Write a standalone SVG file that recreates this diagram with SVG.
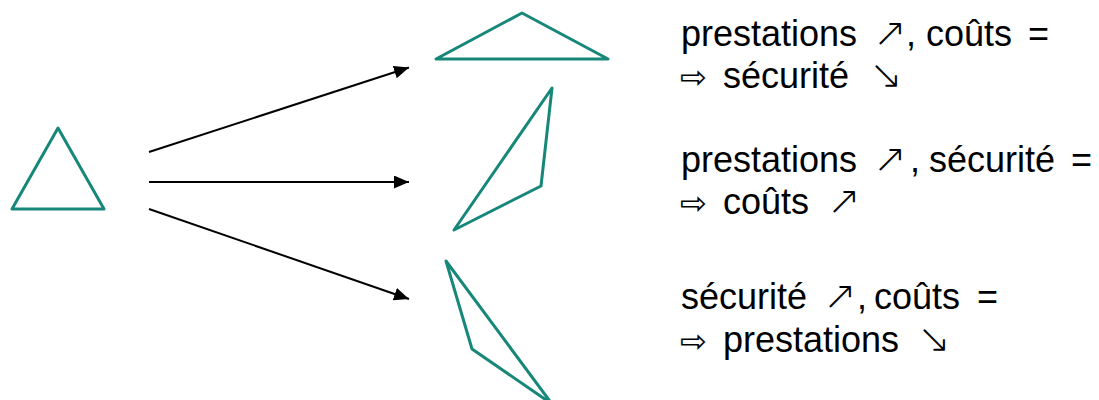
<svg xmlns="http://www.w3.org/2000/svg" width="1099" height="400" viewBox="0 0 1099 400">
  <style>
    .tri { fill: none; stroke: #17877A; stroke-width: 3; stroke-linejoin: round; }
    .edge { fill: none; stroke: #000; stroke-width: 2; }
    .lbl { font-family: "Liberation Sans", Arial, "DejaVu Sans", sans-serif; font-size: 36px; fill: #000; }
    .sym { font-family: "DejaVu Sans ExtraLight", "DejaVu Sans", sans-serif; font-weight: 200; font-size: 40px; }
    .imp { font-family: "DejaVu Sans", sans-serif; font-size: 32px; }
  </style>
  <defs>
    <marker id="arrow" markerUnits="userSpaceOnUse" markerWidth="16" markerHeight="14" refX="15" refY="6.5" orient="auto">
      <path d="M0,0 L15,6.5 L0,13 Z" fill="#000"/>
    </marker>
  </defs>
  <rect width="1099" height="400" fill="#fff"/>

  <!-- starting balance -->
  <g id="balance">
    <polygon class="tri" points="58,128 12,209 104,209"/>
  </g>

  <!-- three outcomes -->
  <g id="outcome-security">
    <polygon class="tri" points="436,59 522,13 608,59"/>
  </g>
  <g id="outcome-cost">
    <polygon class="tri" points="552,88 541,186 454,230"/>
  </g>
  <g id="outcome-performance">
    <polygon class="tri" points="446,261 472,349 552,404"/>
  </g>

  <!-- connectors -->
  <g id="connectors">
    <line class="edge" x1="149" y1="152" x2="409" y2="67.5" marker-end="url(#arrow)"/>
    <line class="edge" x1="149" y1="182" x2="409" y2="182" marker-end="url(#arrow)"/>
    <line class="edge" x1="149" y1="209" x2="409" y2="299" marker-end="url(#arrow)"/>
  </g>

  <!-- labels -->
  <g id="label-security">
    <text class="lbl" y="46"><tspan x="681">prestations</tspan><tspan class="sym" x="873">↗</tspan><tspan x="906">,</tspan><tspan x="926">coûts</tspan><tspan x="1028">=</tspan></text>
    <text class="lbl" y="88"><tspan class="imp" x="680">⇨</tspan><tspan x="723">sécurité</tspan><tspan class="sym" x="869">↘</tspan></text>
  </g>
  <g id="label-cost">
    <text class="lbl" y="172"><tspan x="681">prestations</tspan><tspan class="sym" x="873">↗</tspan><tspan x="910">,</tspan><tspan x="929">sécurité</tspan><tspan x="1071">=</tspan></text>
    <text class="lbl" y="214"><tspan class="imp" x="680">⇨</tspan><tspan x="723">coûts</tspan><tspan class="sym" x="827">↗</tspan></text>
  </g>
  <g id="label-performance">
    <text class="lbl" y="309"><tspan x="681">sécurité</tspan><tspan class="sym" x="823">↗</tspan><tspan x="857">,</tspan><tspan x="874">coûts</tspan><tspan x="977">=</tspan></text>
    <text class="lbl" y="352"><tspan class="imp" x="680">⇨</tspan><tspan x="723">prestations</tspan><tspan class="sym" x="917">↘</tspan></text>
  </g>
</svg>
